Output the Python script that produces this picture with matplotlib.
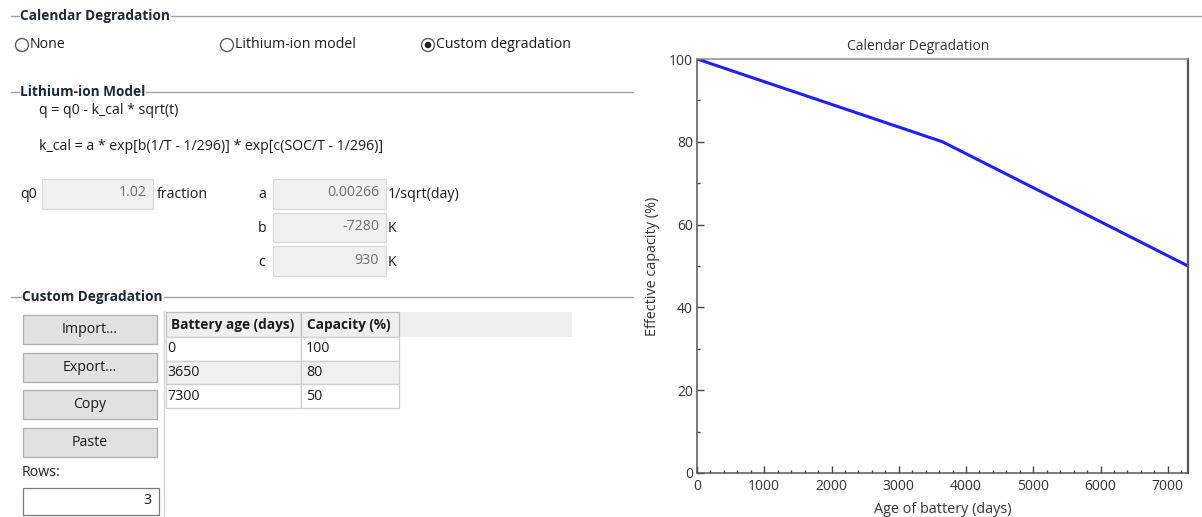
import matplotlib
matplotlib.use("Agg")
import matplotlib.pyplot as plt
from matplotlib.patches import Rectangle, Circle
from matplotlib.ticker import MultipleLocator

# ---------------- data ----------------
battery_age_days = [0, 3650, 7300]
capacity_pct = [100, 80, 50]
table_headers = ["Battery age (days)", "Capacity (%)"]
radio_options = ["None", "Lithium-ion model", "Custom degradation"]
selected_option = "Custom degradation"
model_params = [("a", "0.00266", "1/sqrt(day)"), ("b", "-7280", "K"), ("c", "930", "K")]
q0_value = "1.02"
buttons = ["Import...", "Export...", "Copy", "Paste"]
n_rows = "3"
x_ticks = [0, 1000, 2000, 3000, 4000, 5000, 6000, 7000]
y_ticks = [0, 20, 40, 60, 80, 100]

FONT = ["Open Sans", "DejaVu Sans"]
plt.rcParams['font.family'] = FONT
W, H = 1202, 517
fig = plt.figure(figsize=(W / 100, H / 100), dpi=100)
fig.patch.set_facecolor("white")

gui = fig.add_axes([0, 0, 1, 1])
gui.set_xlim(0, W)
gui.set_ylim(H, 0)
gui.axis("off")

TXT = "#1a1a1a"
FS = 10.2
FSB = 9.8


def header(x, y, label, x_end):
    gui.plot([11, x - 1], [y, y], color="#a0a0a0", lw=1.0)
    t = gui.text(x, y, label, fontsize=FSB, fontweight="bold", color="#1f2733",
                 va="center", ha="left")
    fig.canvas.draw()
    bb = t.get_window_extent()
    inv = gui.transData.inverted()
    xr = inv.transform((bb.x1, bb.y0))[0]
    gui.plot([xr + 1, x_end], [y, y], color="#a0a0a0", lw=1.0)


def box(x0, y0, x1, y1, fc, ec, lw=0.9):
    gui.add_patch(Rectangle((x0, y0), x1 - x0, y1 - y0, facecolor=fc, edgecolor=ec, lw=lw))


# Calendar Degradation section
header(20, 16, "Calendar Degradation", W)
radio_x = [22, 227, 428]
for rx, lab in zip(radio_x, radio_options):
    gui.add_patch(Circle((rx, 45), 6.5, facecolor="white", edgecolor="#5a5a5a", lw=1.0))
    if lab == selected_option:
        gui.add_patch(Circle((rx, 45), 3.3, facecolor="#222222", edgecolor="none"))
    gui.text(rx + 8, 45, lab, fontsize=FS, color=TXT, va="center", ha="left")

# Lithium-ion Model section
header(20, 92, "Lithium-ion Model", 633)
gui.text(39, 110, "q = q0 - k_cal * sqrt(t)", fontsize=FS, color=TXT, va="center")
gui.text(39, 147, "k_cal = a * exp[b(1/T - 1/296)] * exp[c(SOC/T - 1/296)]",
         fontsize=FS, color=TXT, va="center")

gui.text(20, 195, "q0", fontsize=FS, color=TXT, va="center")
box(42, 179, 153, 209, "#f0f0f0", "#d9d9d9")
gui.text(147, 193, q0_value, fontsize=FS, color="#6d6d6d", va="center", ha="right")
gui.text(157, 195, "fraction", fontsize=FS, color=TXT, va="center")

for i, (name, val, unit) in enumerate(model_params):
    y0 = 179 + i * 33.5
    gui.text(262, y0 + 16, name, fontsize=FS, color=TXT, va="center", ha="center")
    box(273, y0, 386, y0 + 29.5, "#f0f0f0", "#d9d9d9")
    gui.text(379, y0 + 14, val, fontsize=FS, color="#6d6d6d", va="center", ha="right")
    gui.text(388, y0 + 16, unit, fontsize=FS, color=TXT, va="center")

# Custom Degradation section
header(22, 297, "Custom Degradation", 633)
for i, b in enumerate(buttons):
    y0 = 315 + i * 37.7
    box(23, y0, 157, y0 + 29, "#e1e1e1", "#adadad")
    gui.text(90, y0 + 14.5, b, fontsize=FS, color=TXT, va="center", ha="center")
gui.text(22, 472, "Rows:", fontsize=FS, color=TXT, va="center")
box(23, 488, 159, 515, "white", "#7a7a7a")
gui.text(152, 501, n_rows, fontsize=FS, color=TXT, va="center", ha="right")

# grid/table
gui.plot([164, 164], [311, H], color="#d0d0d0", lw=0.9)
tx0, tx1, tx2 = 166, 301, 399
hy0, hy1 = 312, 337
row_h = 23.7
box(tx0, hy0, 572, hy1, "#efefef", "none")
box(tx0, hy0, tx1, hy1, "#efefef", "#bdbdbd")
box(tx1, hy0, tx2, hy1, "#efefef", "#bdbdbd")
gui.text(tx0 + 5, (hy0 + hy1) / 2, table_headers[0], fontsize=FSB, fontweight="bold",
         color=TXT, va="center")
gui.text(tx1 + 6, (hy0 + hy1) / 2, table_headers[1], fontsize=FSB, fontweight="bold",
         color=TXT, va="center")
for i, (age, cap) in enumerate(zip(battery_age_days, capacity_pct)):
    y0 = hy1 + i * row_h
    fc = "#f0f0f0" if i % 2 == 1 else "white"
    box(tx0, y0, tx1, y0 + row_h, fc, "#cfcfcf")
    box(tx1, y0, tx2, y0 + row_h, fc, "#cfcfcf")
    gui.text(tx0 + 1, y0 + row_h / 2, str(age), fontsize=FS, color=TXT, va="center")
    gui.text(tx1 + 5, y0 + row_h / 2, str(cap), fontsize=FS, color=TXT, va="center")

# ---------------- chart ----------------
L, R, T, B = 697, 1188, 59, 473
ax = fig.add_axes([L / W, (H - B) / H, (R - L) / W, (B - T) / H])
ax.plot(battery_age_days, capacity_pct, color="#1f1fff", lw=2.2, solid_capstyle="butt")
ax.set_xlim(0, 7300)
ax.set_ylim(0, 100)
ax.set_xticks(x_ticks)
ax.set_yticks(y_ticks)
ax.xaxis.set_minor_locator(MultipleLocator(200))
ax.yaxis.set_minor_locator(MultipleLocator(10))
ax.tick_params(which="major", direction="in", length=5, width=1.0, color="#444444",
               labelsize=10, labelcolor="#333333", pad=4)
ax.tick_params(axis="y", which="major", pad=3)
ax.tick_params(which="minor", direction="in", length=2.5, width=1.0, color="#444444")
for s in ax.spines.values():
    s.set_color("#555555")
    s.set_linewidth(1.1)
ax.spines["right"].set_linewidth(1.6)
ax.spines["top"].set_color("#8a8a8a")
ax.set_xlabel("Age of battery (days)", fontsize=10.4, color="#333333", labelpad=6)
ax.set_ylabel("Effective capacity (%)", fontsize=10.4, color="#333333", labelpad=6)
# title is centred on the whole plot widget, not on the axes
fig.text(918 / W, 1 - 46 / H, "Calendar Degradation", fontsize=10, color="#333333",
         ha="center", va="center")

fig.savefig("out.png", dpi=100, facecolor="white")
